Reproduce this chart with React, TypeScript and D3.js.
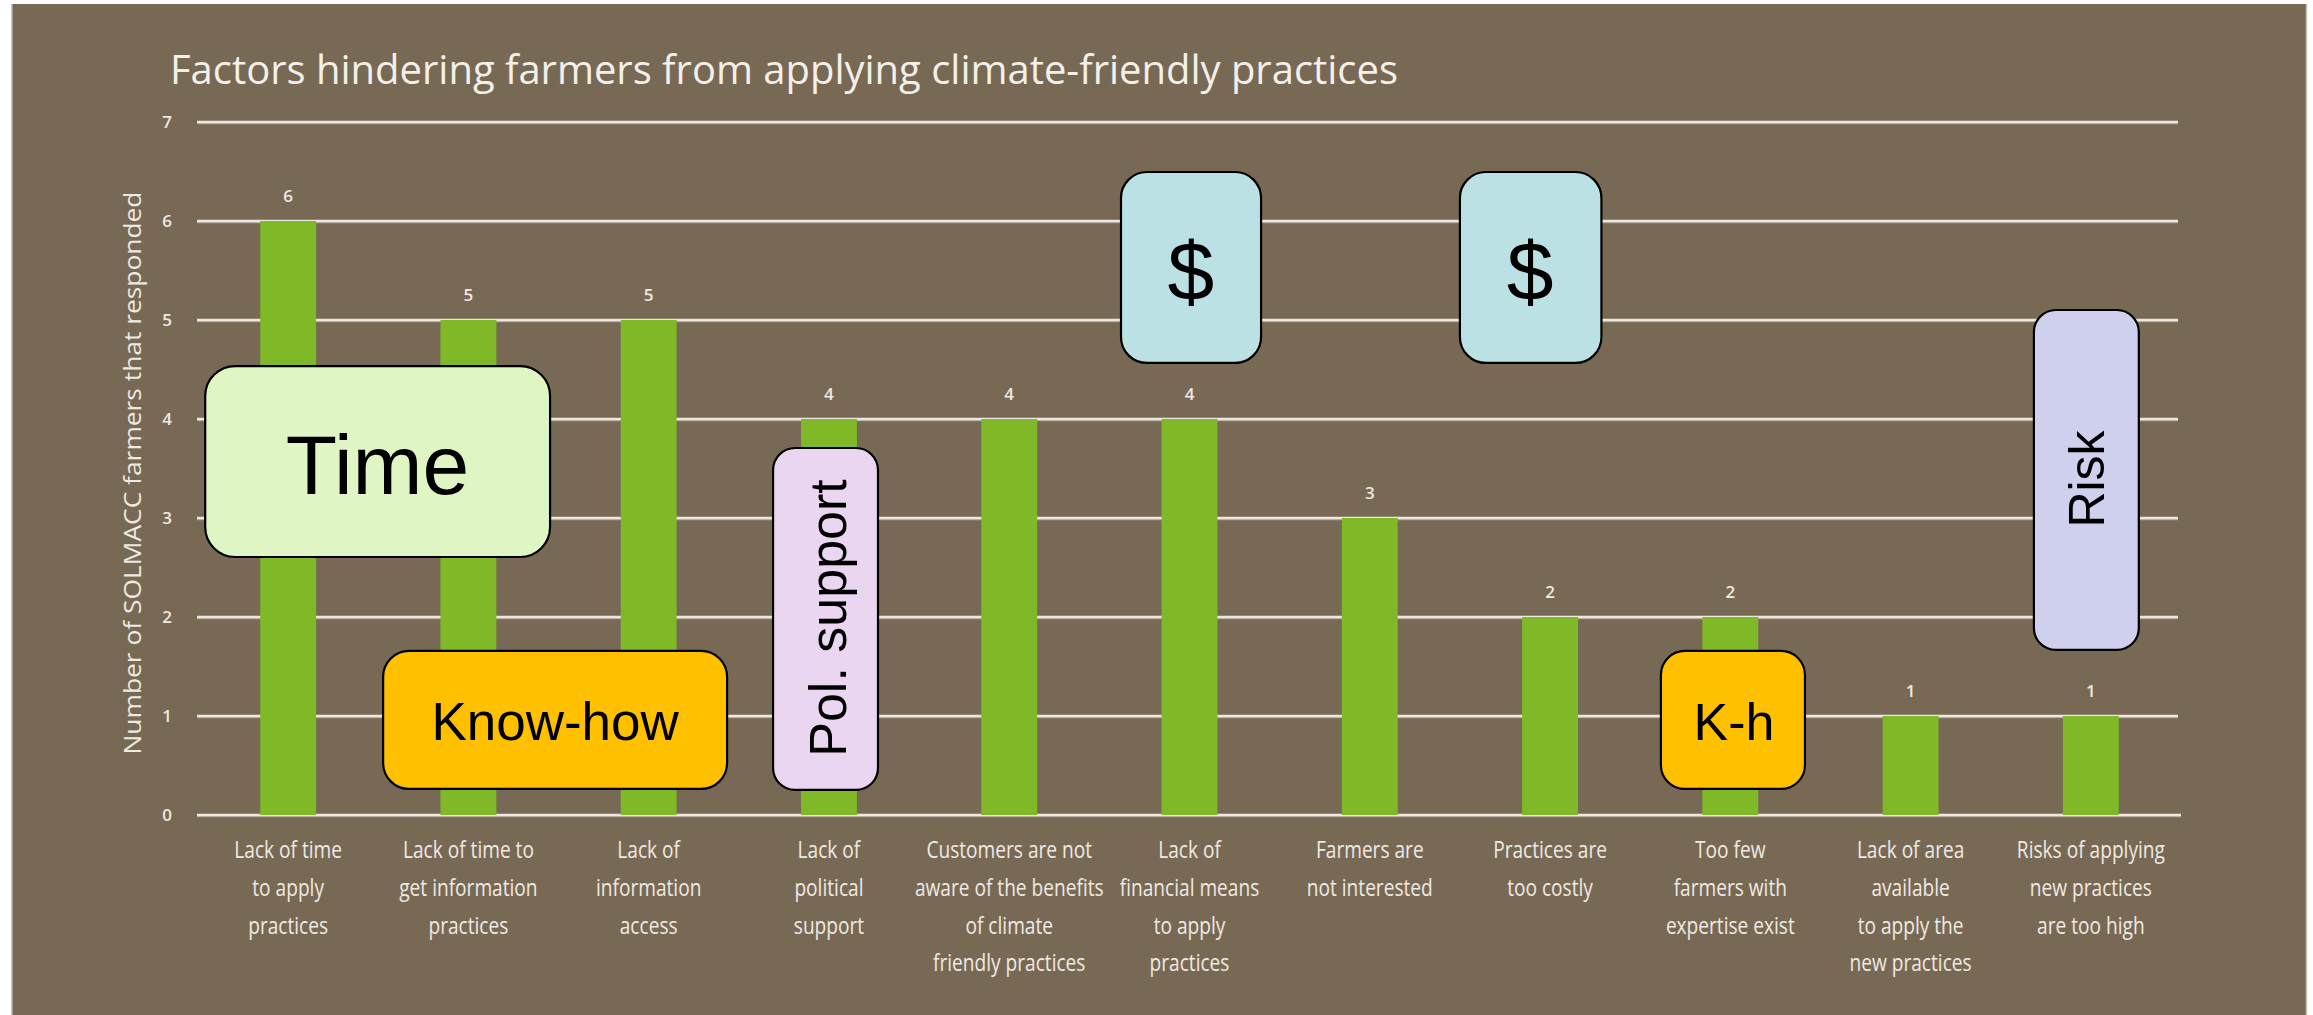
import React from "react";
import * as d3 from "d3";

const W = 2313;
const H = 1015;

const title = "Factors hindering farmers from applying climate-friendly practices";
const yAxisTitle = "Number of SOLMACC farmers that responded";

const categories: string[][] = [
  ["Lack of time", "to apply", "practices"],
  ["Lack of time to", "get information", "practices"],
  ["Lack of", "information", "access"],
  ["Lack of", "political", "support"],
  ["Customers are not", "aware of the benefits", "of climate", "friendly practices"],
  ["Lack of", "financial means", "to apply", "practices"],
  ["Farmers are", "not interested"],
  ["Practices are", "too costly"],
  ["Too few", "farmers with", "expertise exist"],
  ["Lack of area", "available", "to apply the", "new practices"],
  ["Risks of applying", "new practices", "are too high"],
];
const values: number[] = [6, 5, 5, 4, 4, 4, 3, 2, 2, 1, 1];
const yTicks: number[] = [0, 1, 2, 3, 4, 5, 6, 7];

// annotation boxes in data units: x as category index, y as value
const annLabels = ["Time", "Know-how", "Pol. support", "$", "$", "K-h", "Risk"];
const annX0 = [-0.46, 0.527, 2.69, 4.62, 6.5, 7.615, 9.684];
const annX1 = [1.453, 2.435, 3.272, 5.397, 7.285, 8.414, 10.266];
const annY0 = [4.535, 1.657, 3.707, 6.495, 6.495, 1.657, 5.101];
const annY1 = [2.606, 0.263, 0.253, 4.566, 4.566, 0.263, 1.667];
const annTextX = [0.496, 1.481, 2.992, 5.008, 6.89, 8.02, 9.978];
const annTextY = [3.242, 0.758, 1.99, 5.202, 5.202, 0.758, 3.394];
const annRotated = [false, false, true, false, false, false, true];
const annFill = ["#dff5c4", "#ffc000", "#ebd6f2", "#bbe1e4", "#bbe1e4", "#ffc000", "#cfd0ee"];
const annFont = [84, 53, 52, 84, 84, 52, 50];
const annRadius = [30, 26, 22, 26, 26, 24, 22];

export default function App() {
  const keys = categories.map((_, i) => String(i));
  const x = d3.scaleBand<string>().domain(keys).range([198, 2181]).paddingInner(0.69).paddingOuter(0.345);
  const y = d3.scaleLinear().domain([0, 7]).range([815, 122]);
  const step = x.step();
  const cx0 = (x("0") as number) + x.bandwidth() / 2;
  const xi = (i: number) => cx0 + i * step;

  const bg = "#786955";
  const gridColor = "#ece8e1";
  const textLight = "#eeeae3";

  return (
    <svg width={W} height={H} style={{ position: "absolute", left: 0, top: 0, display: "block" }}>
      <rect x={0} y={0} width={W} height={H} fill="#ffffff" />
      <rect x={12} y={4} width={2294} height={H - 4} fill={bg} />
      <line x1={12} x2={12} y1={4} y2={H} stroke="#b8b2a8" strokeWidth={1.5} />
      <line x1={2306.5} x2={2306.5} y1={4} y2={H} stroke="#c8c2b8" strokeWidth={1.5} />

      <text x={170} y={84} fontFamily="Open Sans" fontSize={40} fill="#f3f0ea"
        textLength={1228} lengthAdjust="spacingAndGlyphs">{title}</text>

      {/* gridlines */}
      {yTicks.map((t) => (
        <g key={t}>
          <line x1={197} x2={t === 0 ? 2181 : 2178} y1={y(t) + 1.5} y2={y(t) + 1.5} stroke="#a89e90" strokeWidth={1.5} />
          <line x1={197} x2={t === 0 ? 2181 : 2178} y1={y(t)} y2={y(t)} stroke={gridColor} strokeWidth={2.5} />
          <text x={167} y={y(t)} dy="0.35em" textAnchor="middle" fontFamily="Open Sans" fontWeight={600}
            fontSize={17} fill={textLight}>{t}</text>
        </g>
      ))}

      <text transform={`translate(141,473) rotate(-90)`} textAnchor="middle" fontFamily="Open Sans"
        fontSize={23} fill={textLight} textLength={563} lengthAdjust="spacingAndGlyphs">{yAxisTitle}</text>

      {/* bars */}
      {values.map((v, i) => (
        <g key={i}>
          <rect x={x(String(i))} y={y(v)} width={x.bandwidth()} height={y(0) - y(v)} fill="#80b927" />
          <text x={(x(String(i)) as number) + x.bandwidth() / 2} y={y(v) - 19} textAnchor="middle"
            fontFamily="Open Sans" fontWeight={600} fontSize={17} fill={textLight}>{v}</text>
        </g>
      ))}

      {/* category labels */}
      {categories.map((lines, i) => {
        const cx = (x(String(i)) as number) + x.bandwidth() / 2;
        return (
          <g key={i} transform={`translate(${cx},0) scale(0.78,1)`}>
            {lines.map((ln, j) => (
              <text key={j} x={0} y={858 + j * 37.8} textAnchor="middle" fontFamily="Open Sans"
                fontWeight={500} fontSize={24.5} fill={textLight}>{ln}</text>
            ))}
          </g>
        );
      })}

      {/* annotation boxes */}
      {annLabels.map((lab, k) => {
        const bx0 = xi(annX0[k]);
        const bx1 = xi(annX1[k]);
        const by0 = y(annY0[k]);
        const by1 = y(annY1[k]);
        const tx = xi(annTextX[k]);
        const ty = y(annTextY[k]);
        return (
          <g key={k}>
            <rect x={bx0} y={by0} width={bx1 - bx0} height={by1 - by0} rx={annRadius[k]} ry={annRadius[k]}
              fill={annFill[k]} stroke="#000" strokeWidth={2.2} />
            {annRotated[k] ? (
              <text transform={`translate(${tx},${ty}) rotate(-90)`} textAnchor="middle" dominantBaseline="central"
                fontFamily="Liberation Sans, Arial, sans-serif" fontSize={annFont[k]} fill="#000">{lab}</text>
            ) : (
              <text x={tx} y={ty} textAnchor="middle" fontFamily="Liberation Sans, Arial, sans-serif"
                fontSize={annFont[k]} fill="#000">{lab}</text>
            )}
          </g>
        );
      })}
    </svg>
  );
}
